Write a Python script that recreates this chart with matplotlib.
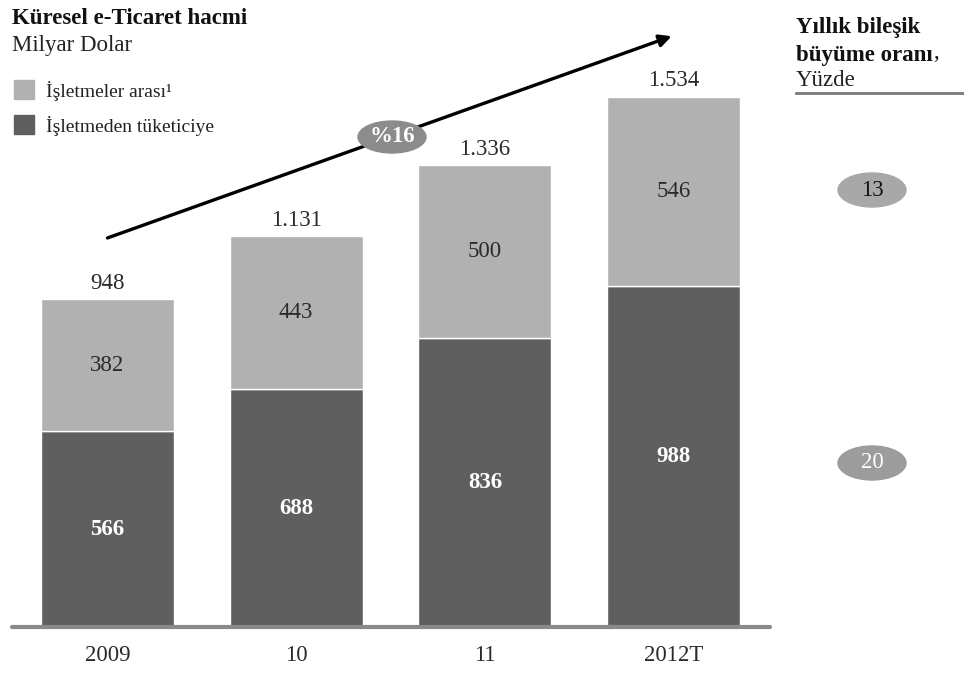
import matplotlib.pyplot as plt
from matplotlib.patches import Ellipse, Rectangle

plt.rcParams['font.family'] = ['Liberation Serif', 'DejaVu Serif']

years = ['2009', '10', '11', '2012T']
b2c = [566, 688, 836, 988]       # İşletmeden tüketiciye
b2b = [382, 443, 500, 546]       # İşletmeler arası
cagr_labels = ['13', '20']       # b2b, b2c
total_cagr = '%16'

light = '#b1b1b1'
dark = '#5f5f5f'
fs = 16.5

fig = plt.figure(figsize=(9.64, 6.75), dpi=100)

# main axes: x from 12px to 770px, baseline at 627px
px_per_unit = 0.3455
ax = fig.add_axes([12 / 964, 1 - 627 / 675, (770 - 12) / 964, 627 / 675])
ax.set_xlim(-0.506, 3.511)
ax.set_ylim(0, 627 / px_per_unit)
ax.axis('off')

x = range(len(years))
ax.bar(x, b2c, width=0.705, color=dark, edgecolor='white', linewidth=1)
ax.bar(x, b2b, bottom=b2c, width=0.705, color=light, edgecolor='white', linewidth=1)

for i in x:
    ax.text(i, b2c[i] / 2, str(b2c[i]), ha='center', va='center',
            color='white', fontsize=fs, fontweight='bold')
    ax.text(i, b2c[i] + b2b[i] / 2, str(b2b[i]), ha='center', va='center',
            color='#2a2a2a', fontsize=fs)
    total = b2c[i] + b2b[i]
    lab = f'{total:,}'.replace(',', '.')
    ax.annotate(lab, (i, total), xytext=(0, 4), textcoords='offset points',
                ha='center', va='bottom', fontsize=fs, color='#2a2a2a')
    ax.text(i, -82, years[i], ha='center', va='center', fontsize=fs, color='#2a2a2a')

# baseline
ax.plot([-0.506, 3.511], [0, 0], color='#8a8a8a', lw=3, clip_on=False,
        solid_capstyle='round')

# growth arrow
ax.annotate('', xy=(2.99, 1710), xytext=(0.0, 1126),
            arrowprops=dict(arrowstyle='-|>', color='black', lw=2.4,
                            mutation_scale=18, shrinkA=0, shrinkB=0))

# overlay axes in pixel coordinates for annotations
ov = fig.add_axes([0, 0, 1, 1])
ov.set_xlim(0, 964)
ov.set_ylim(675, 0)
ov.axis('off')

ov.add_patch(Ellipse((392, 137), 68, 32, color='#8c8c8c', zorder=5))
ov.text(392, 137, total_cagr, ha='center', va='center', color='white',
        fontsize=fs, fontweight='bold', zorder=6)

ov.text(12, 18, 'Küresel e-Ticaret hacmi', fontsize=fs, fontweight='bold',
        va='center', color='#111111')
ov.text(12, 45, 'Milyar Dolar', fontsize=fs, va='center', color='#222222')

ov.add_patch(Rectangle((14, 80), 20, 19, color=light))
ov.add_patch(Rectangle((14, 115), 20, 19, color=dark))
ov.text(46, 91, 'İşletmeler arası¹', fontsize=14, va='center', color='#222222')
ov.text(46, 126, 'İşletmeden tüketiciye', fontsize=14, va='center', color='#222222')

ov.text(796, 27, 'Yıllık bileşik', fontsize=fs, fontweight='bold', va='center',
        color='#111111')
t2 = ov.text(796, 55, 'büyüme oranı', fontsize=fs, fontweight='bold', va='center',
             color='#111111')
ov.annotate(',', xy=(1, 0.12), xycoords=t2, ha='left', va='bottom',
            fontsize=fs, color='#111111')
ov.text(796, 81, 'Yüzde', fontsize=fs, va='center', color='#222222')
ov.plot([796, 964], [93, 93], color='#7a7a7a', lw=2)

ov.add_patch(Ellipse((872, 190), 68, 34, color='#a8a8a8'))
ov.text(872, 190, cagr_labels[0], ha='center', va='center', fontsize=fs,
        color='#111111')
ov.add_patch(Ellipse((872, 463), 68, 34, color='#9c9c9c'))
ov.text(872, 463, cagr_labels[1], ha='center', va='center', fontsize=fs,
        color='white')

fig.savefig('out.png', dpi=100)
